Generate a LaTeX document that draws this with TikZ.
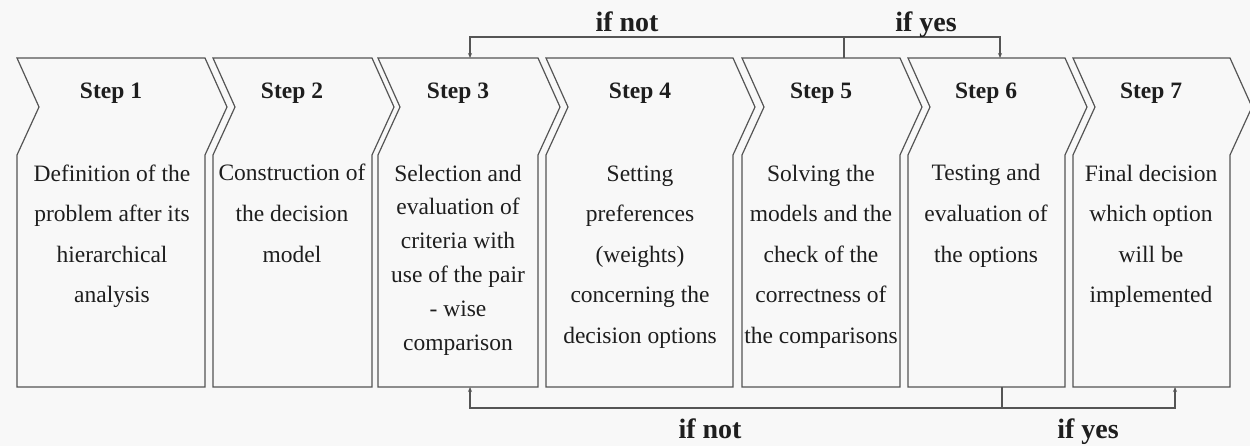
\documentclass[tikz,border=0pt]{standalone}
\usepackage{fontspec}
\setmainfont{Liberation Serif}
\usetikzlibrary{arrows.meta}
\definecolor{bgc}{RGB}{248,248,248}
\definecolor{linec}{RGB}{85,85,85}
\definecolor{txtc}{RGB}{30,30,30}
\tikzset{
  stepshape/.style={draw=linec, line width=1.2pt, line join=miter},
  head/.style={anchor=base, font=\bfseries\fontsize{23.5}{28}\selectfont, text=txtc, inner sep=0pt},
  body/.style={anchor=base, align=center, font=\fontsize{23.5}{40.6}\selectfont, text=txtc, inner sep=0pt},
  bodytight/.style={body, font=\fontsize{23.5}{33.9}\selectfont},
  cond/.style={anchor=base, font=\bfseries\fontsize{28}{32}\selectfont, text=txtc, inner sep=0pt},
  link/.style={draw=linec, line width=1.1pt},
  linkarrow/.style={link, -{Stealth[length=5pt,width=4pt]}}
}
\newcommand{\chev}[2]{%
  \draw[stepshape] (#1,58) -- (#2,58) -- (#2+22,107) -- (#2,155) -- (#2,387) -- (#1,387) -- (#1,155) -- (#1+22,107) -- cycle;}
\begin{document}
\begin{tikzpicture}[x=1pt,y=-1pt]
\fill[bgc] (0,0) rectangle (1250,446);
\useasboundingbox (0,0) rectangle (1250,446);
% shapes
\chev{17}{205}
\chev{213}{372}
\chev{378}{538}
\chev{546}{733}
\chev{742}{900}
\chev{908}{1065}
\chev{1073}{1230}
% headings
\node[head] (h1) at (111,99) {Step 1};
\node[head] (h2) at (292,99) {Step 2};
\node[head] (h3) at (458,99) {Step 3};
\node[head] (h4) at (640,99) {Step 4};
\node[head] (h5) at (821,99) {Step 5};
\node[head] (h6) at (986,99) {Step 6};
\node[head] (h7) at (1151,99) {Step 7};
% bodies (base anchor = baseline of last line)
\node[body] (b1) at (112,302.8) {Definition of the\\problem after its\\hierarchical\\analysis};
\node[body] (b2) at (292,262.2) {Construction of\\the decision\\model};
\node[bodytight] (b3) at (458,350.5) {Selection and\\evaluation of\\criteria with\\use of the pair\\- wise\\comparison};
\node[body] (b4) at (640,343.4) {Setting\\preferences\\(weights)\\concerning the\\decision options};
\node[body] (b5) at (821,343.4) {Solving the\\models and the\\check of the\\correctness of\\the comparisons};
\node[body] (b6) at (986,262.2) {Testing and\\evaluation of\\the options};
\node[body] (b7) at (1151,302.8) {Final decision\\which option\\will be\\implemented};
% connection points
\coordinate (t3) at (470,58);
\coordinate (t5) at (844,58);
\coordinate (t6) at (1000,58);
\coordinate (u3) at (470,387);
\coordinate (u6) at (1002,387);
\coordinate (u7) at (1175,387);
% top feedback
\draw[linkarrow] (t5) -- (t5 |- 0,37) -- (t3 |- 0,37) -- (t3);
\draw[linkarrow] (t5 |- 0,37) -- (t6 |- 0,37) -- (t6);
% bottom feedback
\draw[linkarrow] (u6) -- (u6 |- 0,408) -- (u3 |- 0,408) -- (u3);
\draw[linkarrow] (u6 |- 0,408) -- (u7 |- 0,408) -- (u7);
% labels
\node[cond] (c1) at (627,32) {if not};
\node[cond] (c2) at (926,32) {if yes};
\node[cond] (c3) at (710,438) {if not};
\node[cond] (c4) at (1088,438) {if yes};
\end{tikzpicture}
\end{document}
